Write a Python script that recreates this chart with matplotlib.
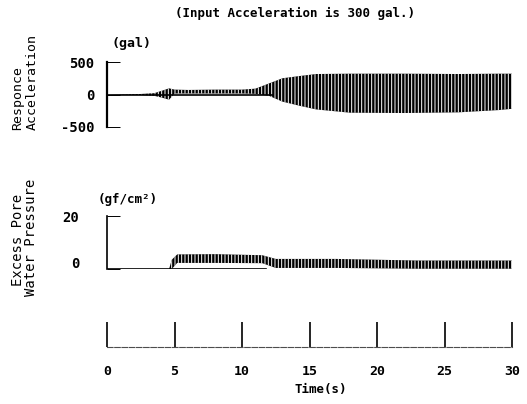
import numpy as np
import matplotlib.pyplot as plt
from matplotlib.transforms import ScaledTranslation

# envelope of the response acceleration record (gal)
acc_t = [0, 2.5, 3.5, 4.1, 4.6, 5.0, 6.0, 8.0, 10.0, 11.0, 12.0, 13.0,
         14.3, 15.5, 18.0, 22.0, 26.0, 29.0, 30.0]
acc_hi = [0, 8, 20, 60, 95, 75, 70, 75, 75, 90, 170, 250,
          285, 315, 320, 320, 315, 320, 320]
acc_lo = [0, -8, -20, -50, -80, 15, 15, 15, 15, 10, -20, -110,
          -175, -230, -280, -285, -275, -240, -220]

# envelope of the excess pore water pressure record (gf/cm2)
pwp_t = [0, 4.6, 4.8, 5.2, 8.0, 11.5, 12.5, 17.0, 23.0, 30.0]
pwp_hi = [0, 0, 3.5, 5.5, 5.6, 5.2, 3.8, 3.8, 3.2, 3.2]
pwp_lo = [0, 0, 0, 2.3, 2.3, 2.2, 0.4, 0.4, 0.1, 0.1]

base_end = 12.3  # zero reference line drawn up to here
time_ticks = [0, 5, 10, 15, 20, 25, 30]

plt.rcParams['font.family'] = 'DejaVu Sans Mono'
plt.rcParams['hatch.linewidth'] = 0.7

W, H = 527, 404
fig = plt.figure(figsize=(W / 100, H / 100), dpi=100)


def box(x0, y0, x1, y1):
    # pixel box -> figure fraction
    return [x0 / W, 1 - y1 / H, (x1 - x0) / W, (y1 - y0) / H]


# --- response acceleration ---
ax1 = fig.add_axes(box(107, 62, 512, 127))
ax1.fill_between(acc_t, acc_lo, acc_hi, facecolor='black', edgecolor='white',
                 hatch='|||||', linewidth=0)
ax1.plot([0, base_end], [0, 0], color='black', lw=1.2)
ax1.set_xlim(0, 30)
ax1.set_ylim(-500, 500)
ax1.set_yticks([-500, 0, 500])
ax1.set_yticklabels(['-500', '0', '500'], fontsize=10, fontweight='bold')
ax1.tick_params(axis='y', direction='in', length=9, width=0.7, pad=9)
ax1.set_xticks([])
for s in ['top', 'right', 'bottom']:
    ax1.spines[s].set_visible(False)
ax1.spines['left'].set_linewidth(1.6)
ax1.patch.set_alpha(0)
fig.text(112 / W, 1 - 43 / H, '(gal)', fontsize=9.5, fontweight='bold',
         va='center', ha='left')

# --- excess pore water pressure ---
ax2 = fig.add_axes(box(107, 216, 512, 269))
ax2.fill_between(pwp_t, pwp_lo, pwp_hi, facecolor='black', edgecolor='white',
                 hatch='|||||', linewidth=0)
ax2.plot([0, base_end - 0.5], [0, 0], color='black', lw=1.2)
ax2.set_xlim(0, 30)
ax2.set_ylim(0, 20)
ax2.set_yticks([0, 20])
ax2.set_yticklabels(['0', '20'], fontsize=10, fontweight='bold')
ax2.tick_params(axis='y', direction='in', length=9, width=0.7, pad=20)
ax2.set_xticks([])
for s in ['top', 'right', 'bottom']:
    ax2.spines[s].set_visible(False)
ax2.spines['left'].set_linewidth(1.2)
ax2.patch.set_alpha(0)
# the "0" label sits a little above the trace baseline in the original
zero_lab = ax2.get_yticklabels()[0]
zero_lab.set_transform(zero_lab.get_transform()
                       + ScaledTranslation(0, 7 / 100, fig.dpi_scale_trans))
fig.text(98 / W, 1 - 200 / H, '(gf/cm²)', fontsize=9, fontweight='bold',
         va='center', ha='left')

# --- time axis ---
ax3 = fig.add_axes(box(107, 322, 512, 347))
ax3.set_xlim(0, 30)
ax3.set_ylim(0, 1)
ax3.set_xticks(time_ticks)
ax3.set_xticklabels([str(t) for t in time_ticks], fontsize=9.5,
                    fontweight='bold')
ax3.tick_params(axis='x', direction='in', length=18, width=1.2, pad=13)
ax3.set_yticks([])
for s in ['top', 'right', 'left']:
    ax3.spines[s].set_visible(False)
ax3.spines['bottom'].set_linewidth(0.8)
ax3.spines['bottom'].set_color('0.3')
ax3.spines['bottom'].set_linestyle((0, (5, 1.5)))
ax3.patch.set_alpha(0)
fig.text(321 / W, 1 - 390 / H, 'Time(s)', fontsize=9, fontweight='bold',
         ha='center', va='center')

# --- titles and axis names ---
fig.text(295 / W, 1 - 13 / H, '(Input Acceleration is 300 gal.)', fontsize=9,
         fontweight='bold', ha='center', va='center')
fig.text(18 / W, 1 - 130 / H, 'Responce', rotation=90, fontsize=9.5,
         ha='center', va='bottom')
fig.text(32 / W, 1 - 130 / H, 'Acceleration', rotation=90, fontsize=9.5,
         ha='center', va='bottom')
fig.text(18 / W, 1 - 240 / H, 'Excess Pore', rotation=90, fontsize=10,
         ha='center', va='center')
fig.text(31 / W, 1 - 237 / H, 'Water Pressure', rotation=90, fontsize=10,
         ha='center', va='center')

fig.savefig('out.png', dpi=100)
